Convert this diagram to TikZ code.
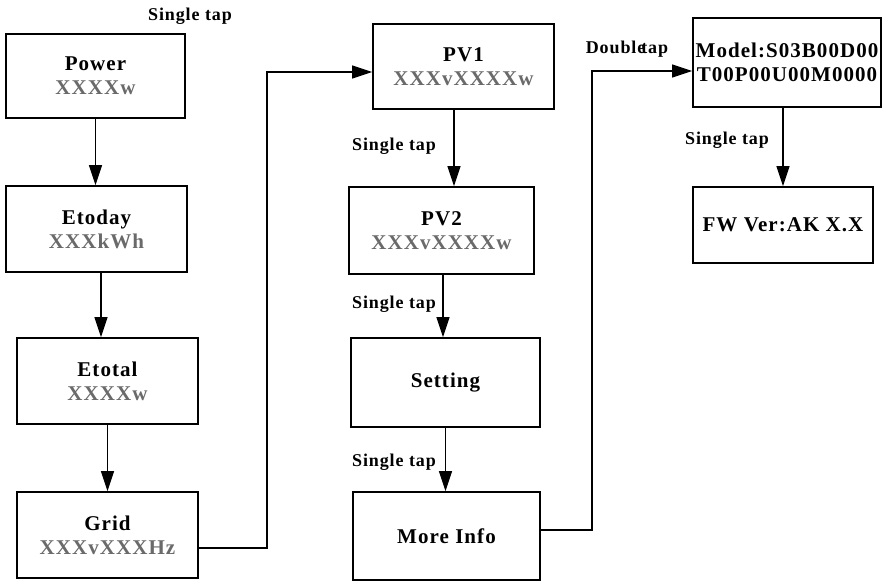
\documentclass[tikz,border=0pt]{standalone}
\usepackage{fontspec}
\setmainfont{Liberation Serif}[LetterSpace=5]
\usetikzlibrary{arrows.meta}
\definecolor{valgray}{HTML}{6A6A6A}
\tikzset{
  box/.style={draw=black, line width=1.8pt, align=center, inner sep=0pt,
    font=\bfseries\fontsize{21}{24}\selectfont},
  arr/.style={line width=1.1pt, -{Triangle[length=20pt,width=13pt]}},
  lbl/.style={font=\bfseries\fontsize{18}{20}\selectfont, inner sep=0pt},
  val/.style={text=valgray}
}
\begin{document}
\begin{tikzpicture}[x=1pt,y=-1pt]
\useasboundingbox (0,0) rectangle (883,582);
% left column
\node[box, minimum width=179pt, minimum height=84pt] (power) at (95.5,76) {Power\\{\color{valgray}XXXXw}};
\node[box, minimum width=181pt, minimum height=86pt] (etoday) at (96.5,229) {Etoday\\{\color{valgray}XXXkWh}};
\node[box, minimum width=181pt, minimum height=86pt] (etotal) at (107.5,381) {Etotal\\{\color{valgray}XXXXw}};
\node[box, minimum width=181pt, minimum height=86pt] (grid) at (107.5,535) {Grid\\{\color{valgray}XXXvXXXHz}};
% middle column
\node[box, minimum width=181pt, minimum height=85pt] (pv1) at (463.5,66.5) {PV1\\{\color{valgray}XXXvXXXXw}};
\node[box, minimum width=185pt, minimum height=87pt] (pv2) at (441.5,230.5) {PV2\\{\color{valgray}XXXvXXXXw}};
\node[box, minimum width=189pt, minimum height=89pt] (setting) at (445.5,382.5) {Setting};
\node[box, minimum width=187pt, minimum height=88pt] (more) at (446.5,536) {More Info};
% right column
\node[box, minimum width=188pt, minimum height=89pt] (model) at (787,62.5) {Model:S03B00D00\\T00P00U00M0000};
\node[box, minimum width=180pt, minimum height=76pt] (fw) at (783,225) {\raisebox{-6pt}{FW Ver:AK X.X}};
% labels
\node[lbl] (l0) at (190,16) {Single tap};
\node[lbl] (l1) at (394,146) {Single tap};
\node[lbl] (l2) at (394,304) {Single tap};
\node[lbl] (l3) at (394,462) {Single tap};
\node[lbl] (l4) at (727,140) {Single tap};
\node[lbl] (l5) at (627,49) {Double\kern-4pt tap};
% connectors
\draw[arr] (power.south) -- (power.south |- etoday.north);
\draw[arr] ([xshift=4.5pt]etoday.south) -- ([xshift=4.5pt]etoday.south |- etotal.north);
\draw[arr] (etotal.south) -- (grid.north);
\coordinate (g1) at (267,548);
\coordinate (g2) at (267,72);
\draw[arr] (grid.east |- g1) -- (g1) -- (g2) -- (g2 -| pv1.west);
\draw[arr] ([xshift=-9.5pt]pv1.south) -- ([xshift=-9.5pt]pv1.south |- pv2.north);
\draw[arr] ([xshift=1.5pt]pv2.south) -- ([xshift=1.5pt]pv2.south |- setting.north);
\draw[arr] (setting.south) -- (setting.south |- more.north);
\coordinate (m1) at (592,530);
\coordinate (m2) at (592,71);
\draw[arr] (more.east |- m1) -- (m1) -- (m2) -- (m2 -| model.west);
\draw[arr] (fw.north |- model.south) -- (fw.north);
\end{tikzpicture}
\end{document}
